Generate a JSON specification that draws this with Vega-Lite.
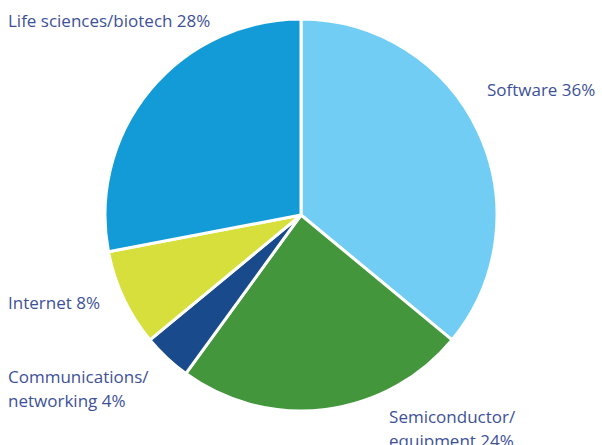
{
  "$schema": "https://vega.github.io/schema/vega-lite/v6.json",
  "width": 602,
  "height": 430,
  "autosize": {"type": "none"},
  "padding": {"left": 0, "right": 0, "top": 0, "bottom": 15},
  "background": "white",
  "view": {"stroke": null},
  "data": {
    "values": [
      {"category": "Software", "value": 36, "order": 1, "label": "Software 36%"},
      {"category": "Semiconductor/equipment", "value": 24, "order": 2, "label": "Semiconductor/\nequipment 24%"},
      {"category": "Communications/networking", "value": 4, "order": 3, "label": "Communications/\nnetworking 4%"},
      {"category": "Internet", "value": 8, "order": 4, "label": "Internet 8%"},
      {"category": "Life sciences/biotech", "value": 28, "order": 5, "label": "Life sciences/biotech 28%"}
    ]
  },
  "encoding": {
    "theta": {"field": "value", "type": "quantitative", "stack": true},
    "order": {"field": "order", "type": "quantitative"}
  },
  "layer": [
    {
      "mark": {"type": "arc", "outerRadius": 196, "stroke": "white", "strokeWidth": 3},
      "encoding": {
        "color": {
          "field": "category",
          "type": "nominal",
          "legend": null,
          "scale": {
            "domain": ["Software", "Semiconductor/equipment", "Communications/networking", "Internet", "Life sciences/biotech"],
            "range": ["#72CDF4", "#43963C", "#184A8C", "#D6DF3B", "#139BD7"]
          }
        }
      }
    },
    {
      "mark": {"type": "text", "radius": 196, "align": "left", "baseline": "alphabetic", "font": "Open Sans", "fontSize": 17, "color": "#3D5199", "lineBreak": "\n", "lineHeight": 24, "dx": 8.6, "dy": -35.6},
      "encoding": {"text": {"condition": {"test": "datum.category === 'Software'", "field": "label"}, "value": ""}}
    },
    {
      "mark": {"type": "text", "radius": 196, "align": "left", "baseline": "alphabetic", "font": "Open Sans", "fontSize": 17, "color": "#3D5199", "lineBreak": "\n", "lineHeight": 24, "dx": 63.5, "dy": 13.6},
      "encoding": {"text": {"condition": {"test": "datum.category === 'Semiconductor/equipment'", "field": "label"}, "value": ""}}
    },
    {
      "mark": {"type": "text", "radius": 196, "align": "left", "baseline": "alphabetic", "font": "Open Sans", "fontSize": 17, "color": "#3D5199", "lineBreak": "\n", "lineHeight": 24, "dx": -158.8, "dy": 25.1},
      "encoding": {"text": {"condition": {"test": "datum.category === 'Communications/networking'", "field": "label"}, "value": ""}}
    },
    {
      "mark": {"type": "text", "radius": 196, "align": "left", "baseline": "alphabetic", "font": "Open Sans", "fontSize": 17, "color": "#3D5199", "lineBreak": "\n", "lineHeight": 24, "dx": -115.6, "dy": 10.6},
      "encoding": {"text": {"condition": {"test": "datum.category === 'Internet'", "field": "label"}, "value": ""}}
    },
    {
      "mark": {"type": "text", "radius": 196, "align": "left", "baseline": "alphabetic", "font": "Open Sans", "fontSize": 17, "color": "#3D5199", "lineBreak": "\n", "lineHeight": 24, "dx": -142, "dy": -63.2},
      "encoding": {"text": {"condition": {"test": "datum.category === 'Life sciences/biotech'", "field": "label"}, "value": ""}}
    }
  ]
}
